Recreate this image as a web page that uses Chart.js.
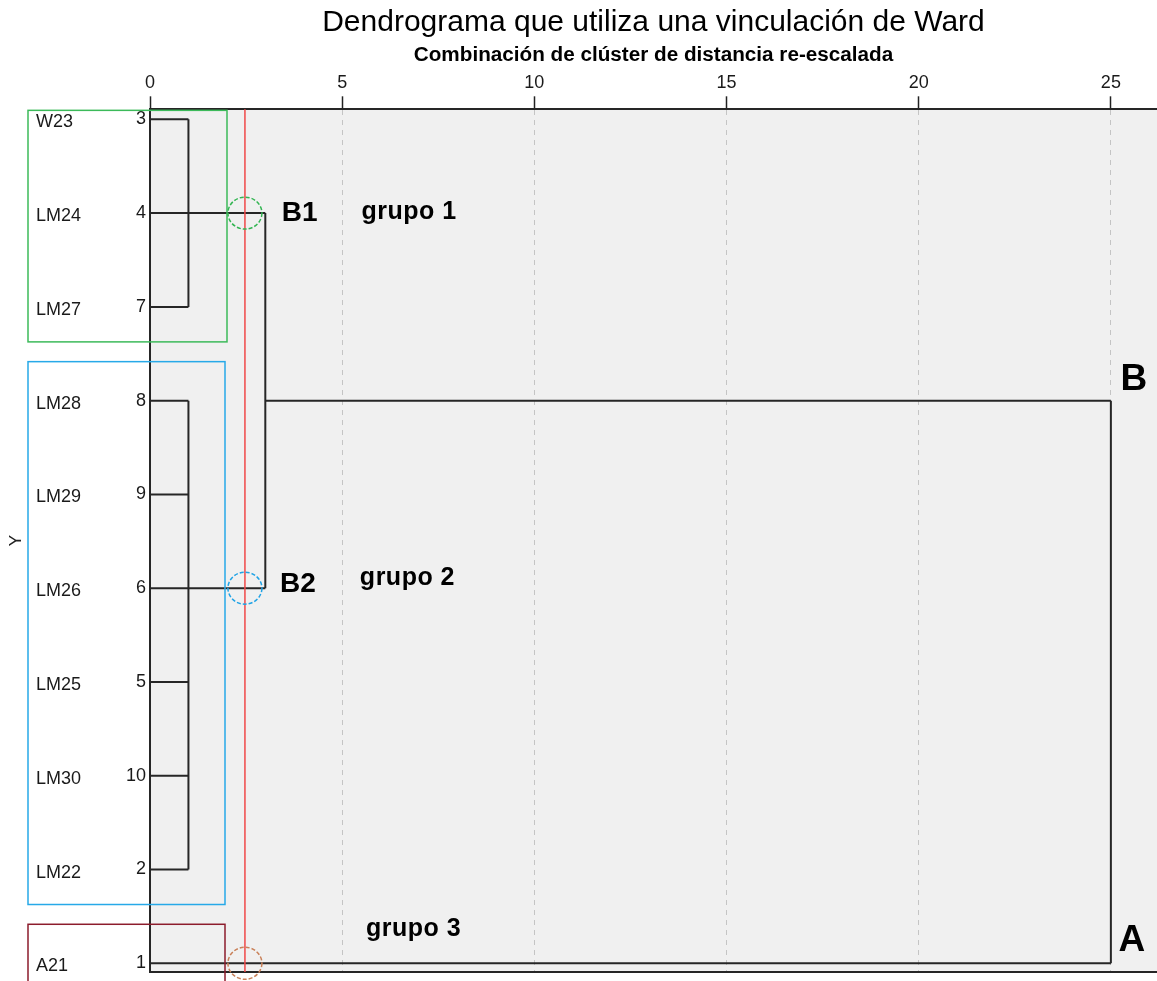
<!DOCTYPE html>
<html>
<head>
<meta charset="utf-8">
<script src="https://cdn.jsdelivr.net/npm/chart.js@4.4.1/dist/chart.umd.min.js"></script>
<style>
  html, body { margin: 0; padding: 0; background: #fff; }
  #wrap { width: 1157px; height: 981px; position: relative; }
</style>
</head>
<body>
<div id="wrap"><canvas id="dendro"></canvas></div>
<script>
// leaves, in the order they are drawn from top to bottom
const caseLabels = ['W23', 'LM24', 'LM27', 'LM28', 'LM29', 'LM26', 'LM25', 'LM30', 'LM22', 'A21'];
const caseNumbers = [3, 4, 7, 8, 9, 6, 5, 10, 2, 1];

// tree nodes: 0-9 are the leaves above, 10-13 are the merges
const nodeRow = [1, 2, 3, 4, 5, 6, 7, 8, 9, 10, 2, 6, 4, 7];
const nodeHeight = [0, 0, 0, 0, 0, 0, 0, 0, 0, 0, 1, 1, 3, 25];
const nodeParent = [10, 10, 10, 11, 11, 11, 11, 11, 11, 13, 12, 12, 13, -1];

const xTicks = [0, 5, 10, 15, 20, 25];
const cutDistance = 2.47;

// groups found by the cut
const groupNames = ['grupo 1', 'grupo 2', 'grupo 3'];
const groupFirstRow = [1, 4, 10];
const groupLastRow = [3, 9, 10];
const groupCutRow = [2, 6, 10];
const branchNames = ['B1', 'B2', 'B', 'A'];

const FONT = "'Liberation Sans', Arial, sans-serif";
const LINE = '#262626';

// build the segments of the tree
const segments = [];
nodeParent.forEach((p, n) => {
    if (p < 0) return;
    segments.push([{ x: nodeHeight[n], y: nodeRow[n] }, { x: nodeHeight[p], y: nodeRow[n] }]);
});
nodeHeight.forEach((h, m) => {
    const kids = nodeParent.map((p, i) => p === m ? nodeRow[i] : null).filter(r => r !== null);
    if (!kids.length) return;
    segments.push([{ x: h, y: Math.min(...kids) }, { x: h, y: Math.max(...kids) }]);
});

const datasets = segments.map(seg => ({
    data: seg,
    showLine: true,
    borderColor: LINE,
    borderWidth: 2,
    pointRadius: 0,
    pointHoverRadius: 0,
}));

const text = (ctx, str, x, y, font, color, spacing) => {
    ctx.save();
    ctx.font = font;
    ctx.fillStyle = color;
    ctx.textAlign = 'left';
    ctx.textBaseline = 'alphabetic';
    if (spacing) ctx.letterSpacing = spacing;
    ctx.fillText(str, x, y);
    ctx.restore();
};

const decorations = {
    id: 'decorations',
    beforeDraw(chart) {
        const { ctx, chartArea: a } = chart;
        ctx.save();
        ctx.fillStyle = '#f0f0f0';
        ctx.fillRect(a.left, a.top, a.right - a.left, a.bottom - a.top);
        ctx.restore();
    },
    afterDraw(chart) {
        const { ctx, chartArea: a } = chart;
        const xs = chart.scales.x, ys = chart.scales.y;
        const cx = xs.getPixelForValue(cutDistance);

        // bottom frame
        ctx.save();
        ctx.strokeStyle = LINE;
        ctx.lineWidth = 2;
        ctx.beginPath();
        ctx.moveTo(a.left, a.bottom);
        ctx.lineTo(a.right, a.bottom);
        ctx.stroke();
        ctx.restore();

        // case labels
        caseLabels.forEach((lab, i) => {
            text(ctx, lab, 36, ys.getPixelForValue(i + 1) + 8, '18px ' + FONT, '#1a1a1a');
        });

        // boxes round the groups
        const boxColors = ['#3cba5a', '#27a9e8', '#8c1c2c'];
        const boxRight = [227, 225, 225];
        ctx.save();
        ctx.lineWidth = 1.5;
        groupNames.forEach((g, i) => {
            const top = ys.getPixelForValue(groupFirstRow[i]) - (i === 0 ? 9 : 39);
            const bottom = i === 2 ? chart.height + 5 : ys.getPixelForValue(groupLastRow[i]) + 35;
            ctx.strokeStyle = boxColors[i];
            ctx.strokeRect(28, top, boxRight[i] - 28, bottom - top);
        });
        ctx.restore();

        // cut line
        ctx.save();
        ctx.strokeStyle = '#f04848';
        ctx.lineWidth = 1.5;
        ctx.beginPath();
        ctx.moveTo(cx, a.top);
        ctx.lineTo(cx, a.bottom);
        ctx.stroke();
        ctx.restore();

        // circles where the cut meets the branches
        const circleColors = ['#33b552', '#1fa3e6', '#c98058'];
        ctx.save();
        ctx.lineWidth = 1.5;
        ctx.setLineDash([4, 2]);
        groupCutRow.forEach((r, i) => {
            ctx.strokeStyle = circleColors[i];
            ctx.beginPath();
            ctx.ellipse(cx, ys.getPixelForValue(r), 17, 16, 0, 0, Math.PI * 2);
            ctx.stroke();
        });
        ctx.restore();

        // branch names
        const bold = (s) => 'bold ' + s + 'px ' + FONT;
        text(ctx, branchNames[0], xs.getPixelForValue(3.43), ys.getPixelForValue(2) + 8, bold(28), '#000');
        text(ctx, branchNames[1], xs.getPixelForValue(3.38), ys.getPixelForValue(6) + 4, bold(28), '#000');
        text(ctx, branchNames[2], xs.getPixelForValue(25.25), ys.getPixelForValue(4) - 11, bold(37), '#000');
        text(ctx, branchNames[3], xs.getPixelForValue(25.2), ys.getPixelForValue(10) - 12, bold(37), '#000');

        // group names
        text(ctx, groupNames[0], xs.getPixelForValue(5.5), ys.getPixelForValue(2) + 6, bold(25), '#000', '0.5px');
        text(ctx, groupNames[1], xs.getPixelForValue(5.46), ys.getPixelForValue(6) - 3, bold(25), '#000', '0.5px');
        text(ctx, groupNames[2], xs.getPixelForValue(5.62), ys.getPixelForValue(10) - 27, bold(25), '#000', '0.5px');
    }
};

new Chart(document.getElementById('dendro'), {
    type: 'scatter',
    data: { datasets: datasets },
    plugins: [decorations],
    options: {
        responsive: true,
        maintainAspectRatio: false,
        animation: false,
        layout: { padding: { left: 0, right: 0, top: 0, bottom: 9 } },
        plugins: {
            legend: { display: false },
            tooltip: { enabled: false },
            title: {
                display: true,
                fullSize: false,
                text: 'Dendrograma que utiliza una vinculación de Ward',
                color: '#000',
                font: { family: FONT, size: 30, weight: 'normal', lineHeight: 1.16 },
                padding: { top: 5, bottom: 0 }
            },
            subtitle: {
                display: true,
                fullSize: false,
                text: 'Combinación de clúster de distancia re-escalada',
                color: '#000',
                font: { family: FONT, size: 20.7, weight: 'bold', lineHeight: 1.16 },
                padding: { top: 3, bottom: 0 }
            }
        },
        scales: {
            x: {
                type: 'linear',
                position: 'top',
                min: 0,
                max: 26.2,
                afterFit: (scale) => { scale.height = 42.5; },
                afterBuildTicks: (scale) => { scale.ticks = xTicks.map(v => ({ value: v })); },
                ticks: {
                    color: '#1a1a1a',
                    font: { family: FONT, size: 18 },
                    padding: 2,
                    maxRotation: 0
                },
                grid: {
                    color: (c) => c.tick && c.tick.value === 0 ? 'rgba(0,0,0,0)' : '#c4c4c4',
                    lineWidth: 1,
                    tickLength: 13,
                    tickColor: '#222',
                    tickWidth: 1.5,
                    tickBorderDash: []
                },
                border: { display: true, color: LINE, width: 2, dash: [5, 5] }
            },
            y: {
                type: 'linear',
                reverse: true,
                min: 0.893,
                max: 10.093,
                afterFit: (scale) => {
                    scale.width = 150;
                    scale.paddingTop = 0;
                    scale.paddingBottom = 0;
                },
                afterBuildTicks: (scale) => { scale.ticks = caseNumbers.map((n, i) => ({ value: i + 1 })); },
                ticks: {
                    color: '#1a1a1a',
                    font: { family: FONT, size: 18 },
                    padding: 4,
                    callback: (v) => caseNumbers[v - 1]
                },
                grid: { display: false, drawTicks: false },
                border: { display: true, color: LINE, width: 2 },
                title: {
                    display: true,
                    text: 'Y',
                    color: '#222',
                    font: { family: FONT, size: 17 },
                    padding: { top: 6, bottom: 0 }
                }
            }
        }
    }
});
</script>
</body>
</html>
